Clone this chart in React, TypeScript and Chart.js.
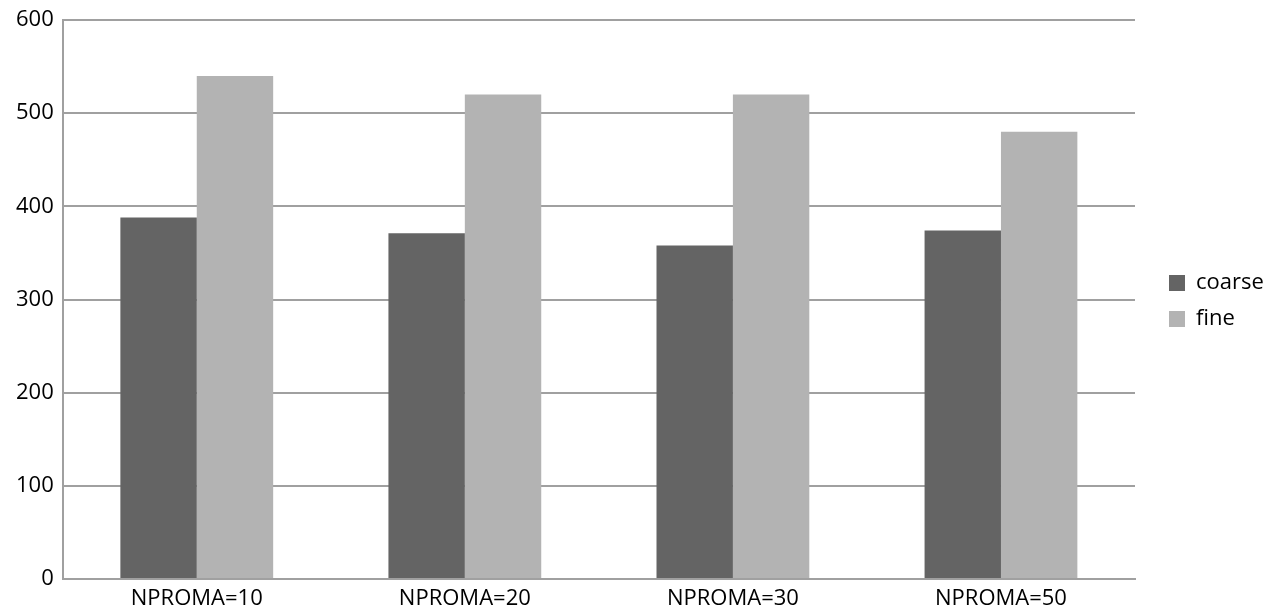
import React, { useEffect, useRef } from "react";
import { Chart, registerables } from "chart.js";

Chart.register(...registerables);

const categories = ["NPROMA=10", "NPROMA=20", "NPROMA=30", "NPROMA=50"];
const coarse = [388, 371, 358, 374];
const fine = [540, 520, 520, 480];
const yTicks = [0, 100, 200, 300, 400, 500, 600];

const legendShift = {
  id: "legendShift",
  afterLayout(chart: any) {
    if (chart.legend) {
      chart.legend.top -= 4;
      chart.legend.bottom -= 4;
    }
  },
};

export default function App() {
  const ref = useRef<HTMLCanvasElement | null>(null);
  useEffect(() => {
    document.body.style.margin = "0";
    const ctx = ref.current!.getContext("2d")!;
    const font = { family: "'Open Sans', sans-serif", size: 22 };
    const chart = new Chart(ctx, {
      type: "bar",
      data: {
        labels: categories,
        datasets: [
          { label: "coarse", data: coarse, backgroundColor: "#646464", barPercentage: 1, categoryPercentage: 0.57 },
          { label: "fine", data: fine, backgroundColor: "#b3b3b3", barPercentage: 1, categoryPercentage: 0.57 },
        ],
      },
      plugins: [legendShift],
      options: {
        animation: false,
        responsive: false,
        maintainAspectRatio: false,
        layout: { padding: { top: 0, left: 7, right: 0, bottom: 0 } },
        plugins: {
          tooltip: { enabled: false },
          legend: {
            position: "right",
            maxWidth: 112,
            labels: {
              color: "#000",
              font,
              boxWidth: 16,
              boxHeight: 16,
              padding: 14,
            },
          },
        },
        scales: {
          x: {
            grid: { display: false, drawTicks: false },
            border: { display: true, color: "#a0a0a0", width: 2 },
            ticks: { color: "#000", font, padding: 7 },
            afterFit: (s: any) => {
              s.height = 31;
            },
          },
          y: {
            min: 0,
            max: 600,
            afterBuildTicks: (axis: any) => {
              axis.ticks = yTicks.map((v) => ({ value: v }));
            },
            grid: { color: "#a0a0a0", lineWidth: 2, drawTicks: false },
            border: { display: true, color: "#a0a0a0", width: 2 },
            ticks: { color: "#000", font: { ...font, lineHeight: 1.0 }, padding: 9 },
          },
          gap: {
            type: "linear",
            position: "right",
            display: true,
            grid: { display: false, drawTicks: false },
            border: { display: false },
            ticks: { display: false },
            afterFit: (s: any) => {
              s.width = 20;
            },
          },
        },
      },
    });
    return () => chart.destroy();
  }, []);
  return (
    <div style={{ width: 1267, height: 610 }}>
      <canvas ref={ref} width={1267} height={610} style={{ display: "block" }} />
    </div>
  );
}
